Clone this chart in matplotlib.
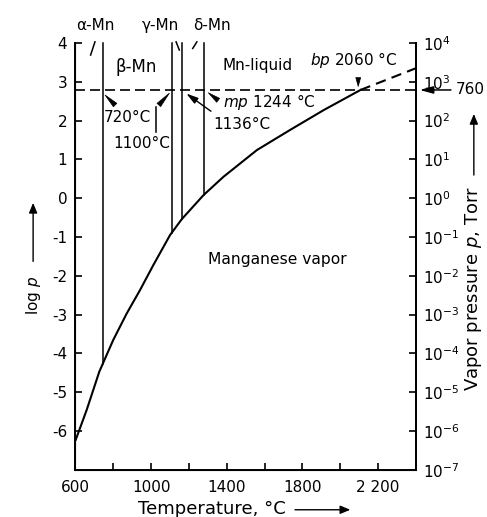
import matplotlib
matplotlib.use('Agg')
import matplotlib.pyplot as plt
from matplotlib.patches import FancyArrowPatch
import numpy as np

# vapor pressure curve of Mn (log p in Torr vs. temperature in degC)
temp = [601, 659, 726, 800, 871, 941, 1012, 1100, 1162, 1277, 1382, 1559, 1735, 1912, 2107]
logp = [-6.23, -5.46, -4.47, -3.65, -2.97, -2.37, -1.72, -0.95, -0.54, 0.08, 0.55, 1.24, 1.76, 2.27, 2.79]
temp_ext = [2107, 2400]
logp_ext = [2.79, 3.35]

# phase transition lines (as drawn)
phase_temp = [744, 1109, 1162, 1280]
log760 = 2.79

xticks = [600, 800, 1000, 1200, 1400, 1600, 1800, 2000, 2200]
xlabels = ['600', '', '1000', '', '1400', '', '1800', '', '2 200']
left_ticks = [-6, -5, -4, -3, -2, -1, 0, 1, 2, 3, 4]
right_ticks = [-7, -6, -5, -4, -3, -2, -1, 0, 1, 2, 3, 4]

fs = 11
plt.rcParams['font.family'] = 'DejaVu Sans'
plt.rcParams['mathtext.fontset'] = 'dejavusans'

fig = plt.figure(figsize=(4.87, 5.17), dpi=100)
ax = fig.add_axes([0.155, 0.0913, 0.699, 0.8255])
ax.set_xlim(600, 2400)
ax.set_ylim(-7, 4)

ax.plot(temp, logp, color='black', lw=1.5)
ax.plot(temp_ext, logp_ext, color='black', lw=1.5, ls=(0, (5, 3)))
ax.axhline(log760, color='black', lw=1.2, ls=(0, (6, 3)))

for t in phase_temp:
    ax.plot([t, t], [np.interp(t, temp, logp), 4], color='black', lw=1.1, clip_on=False)

ax.spines['top'].set_visible(False)
for s in ['left', 'right', 'bottom']:
    ax.spines[s].set_linewidth(1.4)

ax.set_xticks(xticks)
ax.set_xticklabels(xlabels, fontsize=fs)
ax.set_yticks(left_ticks)
ax.set_yticklabels([str(v) for v in left_ticks], fontsize=fs)
ax.tick_params(direction='in', length=5, width=1.2, pad=6)
ax.tick_params(axis='x', pad=7)

ax2 = ax.twinx()
ax2.set_ylim(-7, 4)
ax2.set_yticks(right_ticks)
ax2.set_yticklabels([r'$10^{%d}$' % v for v in right_ticks], fontsize=fs)
ax2.tick_params(direction='in', length=5, width=1.2, pad=5)
ax2.spines['top'].set_visible(False)
ax2.spines['right'].set_linewidth(1.4)

# phase labels at top
ax.text(703, 4.46, 'α-Mn', ha='center', va='center', fontsize=fs)
ax.text(1047, 4.46, 'γ-Mn', ha='center', va='center', fontsize=fs)
ax.text(1323, 4.46, 'δ-Mn', ha='center', va='center', fontsize=fs)
ax.plot([680, 703], [3.69, 4.03], color='black', lw=1.1, clip_on=False)
ax.plot([1132, 1149], [4.03, 3.82], color='black', lw=1.1, clip_on=False)
ax.plot([1220, 1242], [3.86, 4.03], color='black', lw=1.1, clip_on=False)
ax.text(920, 3.39, 'β-Mn', ha='center', va='center', fontsize=12)
ax.text(1561, 3.43, 'Mn-liquid', ha='center', va='center', fontsize=fs)
ax.text(1667, -1.57, 'Manganese vapor', ha='center', va='center', fontsize=11.2)

wedge = dict(arrowstyle='wedge,tail_width=0.35', color='black', lw=0.5)
ax.annotate('', xy=(746, 2.71), xytext=(820, 2.35), arrowprops=wedge)
ax.text(873, 2.07, '720°C', ha='center', va='center', fontsize=fs)

ax.plot([1026, 1026], [1.71, 2.35], color='black', lw=1.1)
ax.annotate('', xy=(1106, 2.76), xytext=(1031, 2.35), arrowprops=wedge)
ax.text(953, 1.42, '1100°C', ha='center', va='center', fontsize=fs)

ax.annotate('', xy=(1174, 2.74), xytext=(1328, 2.20),
            arrowprops=dict(arrowstyle='-|>,head_length=0.7,head_width=0.2', color='black', lw=1.0))
ax.text(1482, 1.89, '1136°C', ha='center', va='center', fontsize=fs)

ax.annotate('', xy=(1291, 2.76), xytext=(1366, 2.48), arrowprops=wedge)
ax.text(1382, 2.49, r'$mp$ 1244 °C', ha='left', va='center', fontsize=fs)

ax.annotate('', xy=(2095, 2.81), xytext=(2095, 3.18), arrowprops=wedge)
ax.text(2071, 3.56, r'$bp$ 2060 °C', ha='center', va='center', fontsize=fs)

# 760 Torr marker on the right axis
ax.annotate('', xy=(1.003, log760), xytext=(1.111, log760), xycoords=('axes fraction', 'data'),
            arrowprops=dict(arrowstyle='-|>,head_length=0.8,head_width=0.22', color='black', lw=1.1))
ax.text(1.117, log760, '760', transform=ax.get_yaxis_transform(), ha='left', va='center', fontsize=fs)

# axis labels with arrows
arrow = dict(arrowstyle='-|>,head_length=6,head_width=2.5', color='black', lw=1.0)
fig.text(0.068, 0.429, r'log $p$', rotation=90, ha='center', va='center', fontsize=fs)
fig.patches.append(FancyArrowPatch((0.068, 0.489), (0.068, 0.613), transform=fig.transFigure, **arrow))
fig.text(0.973, 0.441, r'Vapor pressure $p$, Torr', rotation=90, ha='center', va='center', fontsize=13)
fig.patches.append(FancyArrowPatch((0.973, 0.656), (0.973, 0.785), transform=fig.transFigure, **arrow))
fig.text(0.435, 0.016, 'Temperature, °C', ha='center', va='center', fontsize=13)
fig.patches.append(FancyArrowPatch((0.6, 0.014), (0.725, 0.014), transform=fig.transFigure, **arrow))

fig.savefig('out.png', dpi=100)
